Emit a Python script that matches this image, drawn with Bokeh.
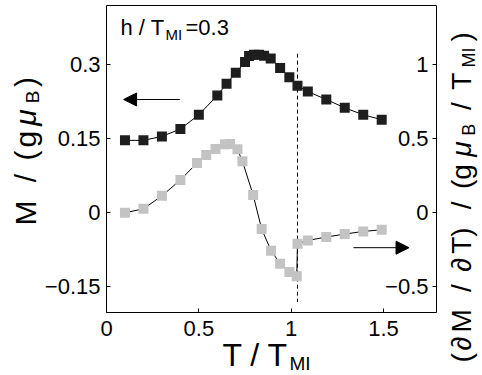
import math
from bokeh.plotting import figure
from bokeh.models import Range1d, LinearAxis, FixedTicker, Label, Arrow, NormalHead
from bokeh.embed import file_html
from bokeh.resources import INLINE

# ---------------- data ----------------
t_m = [0.1, 0.2, 0.3, 0.4, 0.5, 0.6, 0.65, 0.7, 0.75, 0.772, 0.799, 0.826, 0.853, 0.889,
       0.94, 0.99, 1.034, 1.09, 1.19, 1.29, 1.39, 1.49]
m_vals = [0.147, 0.147, 0.155, 0.170, 0.199, 0.238, 0.262, 0.284, 0.306, 0.318, 0.321,
          0.321, 0.319, 0.313, 0.294, 0.275, 0.258, 0.246, 0.230, 0.213, 0.199, 0.189]

t_d = [0.1, 0.2, 0.3, 0.4, 0.49, 0.54, 0.59, 0.642, 0.669, 0.709, 0.736, 0.794, 0.84,
       0.891, 0.94, 0.99, 1.03, 1.034, 1.09, 1.19, 1.29, 1.39, 1.49]
dmdt_vals = [0.0, 0.027, 0.115, 0.222, 0.337, 0.391, 0.431, 0.463, 0.465, 0.43, 0.348,
             0.121, -0.11, -0.256, -0.344, -0.40, -0.43, -0.209, -0.187, -0.164, -0.144,
             -0.126, -0.115]

x_ticks = [0, 0.5, 1, 1.5]
m_ticks = [-0.15, 0, 0.15, 0.3]
m_tick_labels = ["\u22120.15", "0", "0.15", "0.3"]
d_ticks = [-0.5, 0, 0.5, 1]
d_tick_labels = ["\u22120.5", "0", "0.5", "1"]

t_mi_line = 1.034

# ---------------- geometry (page pixels) ----------------
WIDTH, HEIGHT = 482, 375
BOX_L, BOX_R, BOX_T, BOX_B = 106, 436, 5, 312
SX = 184.7          # px per unit of T/T_MI
SY = 492.7          # px per unit of M
Y_ZERO = 212.3      # page y of M = 0
D_PER_M = 10 / 3    # right axis units per left axis unit

x_box_lo, x_box_hi = 0.0, (BOX_R - BOX_L) / SX
m_box_lo, m_box_hi = (Y_ZERO - BOX_B) / SY, (Y_ZERO - BOX_T) / SY
x_full = (-BOX_L / SX, (WIDTH - BOX_L) / SX)
m_full = ((Y_ZERO - HEIGHT) / SY, Y_ZERO / SY)

FONT = "Liberation Sans"

p = figure(width=WIDTH, height=HEIGHT, x_range=Range1d(*x_full), y_range=Range1d(*m_full),
           output_backend="svg", toolbar_location=None, x_axis_type=None, y_axis_type=None,
           min_border=0, min_border_left=0, min_border_right=0, min_border_top=0,
           min_border_bottom=0, background_fill_color="white", border_fill_color="white",
           outline_line_color=None)
p.extra_y_ranges = {"right": Range1d(m_full[0] * D_PER_M, m_full[1] * D_PER_M)}


def style_axis(ax, ticks, tin, tout, standoff):
    ax.ticker = FixedTicker(ticks=ticks)
    ax.major_tick_in = tin
    ax.major_tick_out = tout
    ax.minor_tick_line_color = None
    ax.axis_line_color = "black"
    ax.axis_line_width = 1
    ax.major_tick_line_color = "black"
    ax.major_label_text_font = FONT
    ax.major_label_text_font_size = "22px"
    ax.major_label_text_color = "black"
    ax.major_label_standoff = standoff


ax_b = LinearAxis(fixed_location=m_box_lo, bounds=(x_box_lo, x_box_hi))
style_axis(ax_b, x_ticks, 4, 0, 8)
p.add_layout(ax_b, "below")

ax_t = LinearAxis(fixed_location=m_box_hi, bounds=(x_box_lo, x_box_hi))
style_axis(ax_t, [], 0, 0, 0)
p.add_layout(ax_t, "above")

ax_l = LinearAxis(fixed_location=x_box_lo, bounds=(m_box_lo, m_box_hi))
style_axis(ax_l, m_ticks, 4, 0, 6)
ax_l.major_label_overrides = {k: v for k, v in zip(m_ticks, m_tick_labels)}
p.add_layout(ax_l, "left")

# right-hand axis: ticks point into the box, labels sit inside the box
ax_r = LinearAxis(y_range_name="right", fixed_location=x_box_hi,
                  bounds=(m_box_lo * D_PER_M, m_box_hi * D_PER_M))
style_axis(ax_r, d_ticks, 0, 4, 4)
ax_r.major_label_overrides = {k: v for k, v in zip(d_ticks, d_tick_labels)}
p.add_layout(ax_r, "left")

# dashed line at T_MI
p.line([t_mi_line, t_mi_line], [0.323, -0.181], line_color="black", line_width=1,
       line_dash="4 3")

# series
p.line(t_m, m_vals, line_color="black", line_width=1)
p.scatter(t_m, m_vals, marker="square", size=10, fill_color="#1e1e1e", line_color=None)
p.line(t_d, dmdt_vals, line_color="black", line_width=1, y_range_name="right")
p.scatter(t_d, dmdt_vals, marker="square", size=10, fill_color="#c3c3c3", line_color=None,
          y_range_name="right")

# arrows
p.add_layout(Arrow(end=NormalHead(size=13, fill_color="black", line_color="black"),
                   x_start=0.397, y_start=0.23, x_end=0.0925, y_end=0.23,
                   line_color="black", line_width=1))
p.add_layout(Arrow(end=NormalHead(size=13, fill_color="black", line_color="black"),
                   x_start=1.337, y_start=-0.236, x_end=1.638, y_end=-0.236,
                   y_range_name="right", line_color="black", line_width=1))

# ---------------- text pieces ----------------
W = {' ': 278, '/': 278, '(': 333, ')': 333, 'M': 833, 'T': 611, 'g': 556, '\u03bc': 576,
     'B': 667, 'I': 278, '\u2202': 494, 'h': 556, '=': 584, '0': 556, '.': 278, '3': 556}
DESC = 0.212  # baseline correction (fraction of font size)


def adv(s, size):
    return sum(W.get(c, 556) for c in s) * size / 1000


def lab(text, X, Y, size, italic=False, rotated=False):
    if rotated:
        X -= DESC * size
    else:
        Y -= DESC * size
    p.add_layout(Label(x=X, y=HEIGHT - Y, x_units="screen", y_units="screen", text=text,
                       angle=math.pi / 2 if rotated else 0.0, text_font=FONT,
                       text_font_size=f"{size}px",
                       text_font_style="italic" if italic else "normal",
                       text_align="left", text_baseline="alphabetic", text_color="black"))


def rot_text(pieces, X0, Y0, stretch):
    Y = Y0
    for text, size, italic, shift in pieces:
        lead = len(text) - len(text.lstrip(' '))
        ys = Y - adv(' ' * lead, size) * stretch
        lab(text.strip(), X0 + shift, ys, size, italic, True)
        Y -= adv(text, size) * stretch


rot_text([("M", 30, False, 0), (" / ", 30, False, 0), ("(", 30, False, 0),
          ("g", 30, False, 0), ("\u03bc", 30, True, 0), ("B", 19, False, 5),
          (")", 30, False, 0)], 31, 225, 1.3)

rot_text([("(", 28, False, 0), ("\u2202", 28, True, 0), ("M", 28, False, 0),
          (" / ", 28, False, 0), ("\u2202", 28, True, 0), ("T)", 28, False, 0),
          (" / ", 28, False, 0), ("(g", 28, False, 0), ("\u03bc", 28, True, 0),
          ("B", 18, False, 5), (" / ", 28, False, 0), ("T", 28, False, 0),
          ("MI", 18, False, 5), (")", 28, False, 0)], 467, 362, 1.3)

lab("T / T", 222, 361, 32)
lab("MI", 289, 367, 19)

lab("h / T", 120, 32, 22)
lab("MI", 165, 37, 15)
lab("=0.3", 185, 32, 22)

open("out.html", "w").write(file_html(p, INLINE))
